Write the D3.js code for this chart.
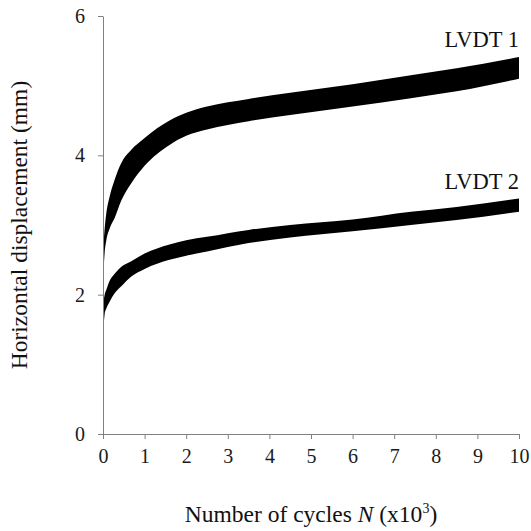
<!DOCTYPE html>
<html>
<head>
<meta charset="utf-8">
<script src="https://cdnjs.cloudflare.com/ajax/libs/d3/7.8.5/d3.min.js"></script>
<style>
  html, body { margin: 0; padding: 0; background: #fff; }
  svg { display: block; font-family: "Liberation Serif", "Times New Roman", serif; }
</style>
</head>
<body>
<svg id="chart" width="531" height="531"></svg>
<script>
// Number of cycles (x10^3)
const cycles = [0, 0.04, 0.08, 0.16, 0.28, 0.44, 0.68, 1.0, 1.6, 2.0, 2.5, 3.5, 4.5, 6, 7.4, 8.5, 10];
// LVDT 1 envelope (mm)
const lvdt1Upper = [2.6, 2.95, 3.17, 3.41, 3.65, 3.89, 4.08, 4.25, 4.50, 4.61, 4.70, 4.81, 4.90, 5.02, 5.15, 5.25, 5.41];
const lvdt1Lower = [2.2, 2.6, 2.78, 2.95, 3.1, 3.35, 3.6, 3.85, 4.15, 4.28, 4.37, 4.49, 4.58, 4.70, 4.82, 4.92, 5.10];
// LVDT 2 envelope (mm)
const lvdt2Upper = [1.85, 2.0, 2.07, 2.2, 2.3, 2.4, 2.48, 2.59, 2.72, 2.78, 2.83, 2.93, 3.0, 3.08, 3.19, 3.26, 3.38];
const lvdt2Lower = [1.4, 1.72, 1.8, 1.9, 2.02, 2.12, 2.26, 2.37, 2.50, 2.56, 2.62, 2.74, 2.82, 2.91, 3.0, 3.07, 3.19];
const seriesNames = ["LVDT 1", "LVDT 2"];
const xTicks = [0, 1, 2, 3, 4, 5, 6, 7, 8, 9, 10];
const yTicks = [0, 2, 4, 6];

const margin = {top: 16, right: 12, bottom: 97, left: 103};
const W = 531, H = 531;
const svg = d3.select("#chart");

const x = d3.scaleLinear().domain([0, 10]).range([margin.left, W - margin.right]);
const y = d3.scaleLinear().domain([0, 6]).range([H - margin.bottom, margin.top]);

const bands = [
  {name: seriesNames[0], upper: lvdt1Upper, lower: lvdt1Lower},
  {name: seriesNames[1], upper: lvdt2Upper, lower: lvdt2Lower}
];

const area = d3.area()
  .x(d => x(d.n))
  .y0(d => y(d.lo))
  .y1(d => y(d.hi))
  .curve(d3.curveMonotoneX);

bands.forEach(b => {
  const pts = cycles.map((n, i) => ({n, hi: b.upper[i], lo: b.lower[i]}));
  svg.append("path").attr("d", area(pts)).attr("fill", "#000");
});

const axisColor = "#808080";
const gx = svg.append("g").attr("transform", `translate(0,${y(0)})`)
  .call(d3.axisBottom(x).tickValues(xTicks).tickFormat(d3.format("d"))
    .tickSize(5).tickPadding(10).tickSizeOuter(0));
const gy = svg.append("g").attr("transform", `translate(${x(0)},0)`)
  .call(d3.axisLeft(y).tickValues(yTicks).tickFormat(d3.format("d"))
    .tickSize(5).tickPadding(13).tickSizeOuter(0));
[gx, gy].forEach(g => {
  g.select(".domain").attr("stroke", axisColor);
  g.selectAll(".tick line").attr("stroke", axisColor);
  g.selectAll(".tick text").attr("fill", "#1a1a1a").style("font-size", "20px")
    .style("font-family", '"Liberation Serif", serif');
});

// series labels
svg.append("text").attr("x", x(10)).attr("y", 47).attr("text-anchor", "end")
  .style("font-size", "22.5px").attr("fill", "#111").text(seriesNames[0]);
svg.append("text").attr("x", x(10)).attr("y", 189).attr("text-anchor", "end")
  .style("font-size", "22.5px").attr("fill", "#111").text(seriesNames[1]);

// x title
const xt = svg.append("text").attr("x", (x(0) + x(10)) / 2).attr("y", 522)
  .attr("text-anchor", "middle").style("font-size", "23.5px").attr("fill", "#111");
xt.append("tspan").text("Number of cycles ");
xt.append("tspan").style("font-style", "italic").text("N");
xt.append("tspan").text(" (x10");
xt.append("tspan").attr("dy", -9).style("font-size", "14px").text("3");
xt.append("tspan").attr("dy", 9).text(")");

// y title
svg.append("text")
  .attr("transform", `translate(27,${(y(0) + y(6)) / 2}) rotate(-90)`)
  .attr("text-anchor", "middle").style("font-size", "23.5px").attr("fill", "#111")
  .text("Horizontal displacement (mm)");
</script>
</body>
</html>
